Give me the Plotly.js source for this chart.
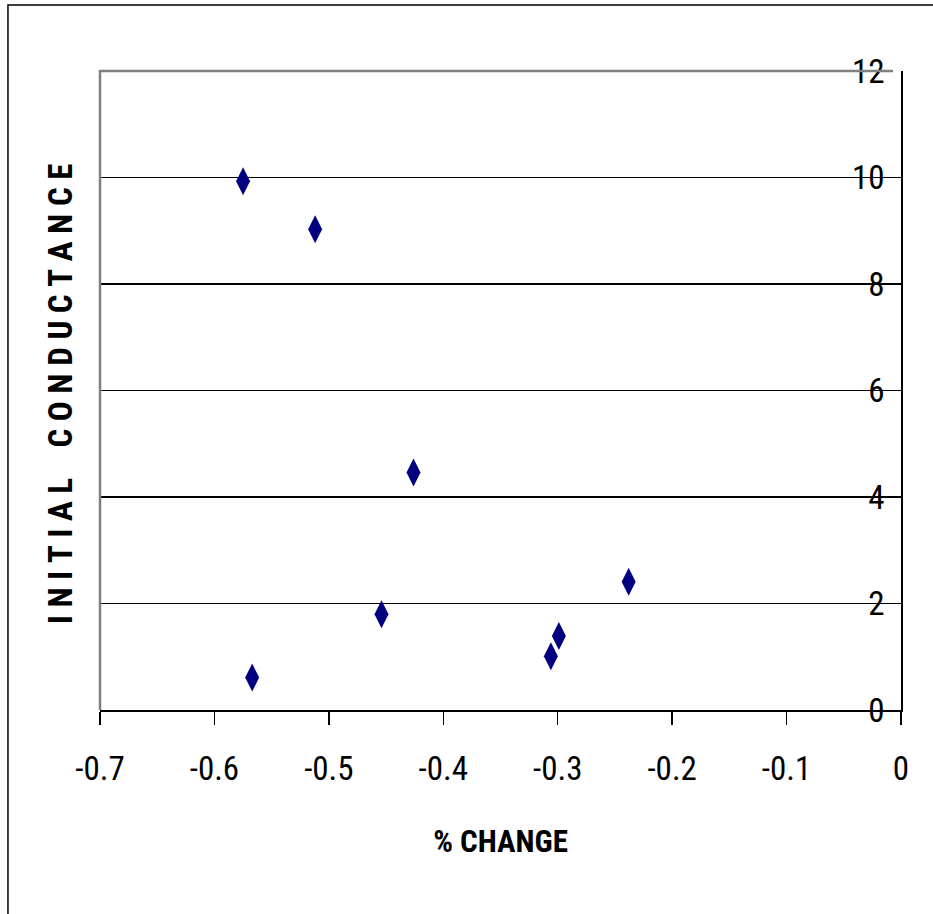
<!DOCTYPE html>
<html>
<head>
<meta charset="utf-8">
<script src="https://cdn.plot.ly/plotly-3.0.1.min.js"></script>
<style>html,body{margin:0;padding:0;background:#fff;}#chart{width:933px;height:914px;}</style>
</head>
<body>
<div id="chart"></div>
<script>
// Data
var pctChange = [-0.575, -0.512, -0.426, -0.454, -0.567, -0.306, -0.299, -0.238];
var initialConductance = [9.93, 9.03, 4.46, 1.80, 0.61, 1.01, 1.39, 2.41];
var xTickVals = [-0.7, -0.6, -0.5, -0.4, -0.3, -0.2, -0.1, 0];
var xTickText = ['-0.7', '-0.6', '-0.5', '-0.4', '-0.3', '-0.2', '-0.1', '0'];
var yTickVals = [0, 2, 4, 6, 8, 10, 12];
var yTickText = ['0', '2', '4', '6', '8', '10', '12'];
var xTitle = '% CHANGE';
var yTitle = 'INITIAL CONDUCTANCE';

var NARROW = '"Roboto Condensed", "Liberation Sans", Arial, sans-serif';

function spaced(s) {
  return s.split(' ').map(function (w) { return w.split('').join('\u00A0'); }).join('\u00A0\u00A0\u00A0\u00A0');
}

var trace = {
  x: pctChange, y: initialConductance, type: 'scatter', mode: 'markers',
  marker: { symbol: 'diamond-tall', size: 20, color: '#000080', line: { width: 0 } }
};

var layout = {
  width: 933, height: 914, paper_bgcolor: '#ffffff', plot_bgcolor: '#ffffff', showlegend: false,
  margin: { l: 100, r: 32, t: 71, b: 204 },
  font: { family: NARROW, color: '#000000' },
  xaxis: {
    range: [-0.7, 0], tickvals: xTickVals, ticktext: xTickText, showgrid: false, zeroline: false,
    showline: true, linecolor: '#000000', linewidth: 2, ticks: 'outside', ticklen: 13, tickwidth: 1.5,
    tickcolor: '#000000', ticklabelstandoff: 15, ticklabeloverflow: 'allow',
    tickfont: { family: NARROW, size: 33, color: '#000000' },
    title: { text: xTitle, font: { family: NARROW, size: 31, color: '#000000', weight: 'bold' }, standoff: 44 }
  },
  yaxis: {
    range: [0, 12], side: 'right', tickvals: yTickVals, ticktext: yTickText, showgrid: true,
    gridcolor: '#000000', gridwidth: 1.5, zeroline: false, showline: true, linecolor: '#000000', linewidth: 2,
    ticks: 'inside', ticklen: 8, tickwidth: 1.5, tickcolor: '#000000', ticklabelposition: 'inside',
    ticklabelstandoff: 12, ticklabeloverflow: 'allow',
    tickfont: { family: NARROW, size: 33, color: '#000000' }
  },
  shapes: [
    { type: 'path', xref: 'paper', yref: 'paper', path: 'M0,0 L0,1 L0.99,1', line: { color: '#808080', width: 2.5 }, layer: 'above' },
    { type: 'path', xref: 'paper', yref: 'paper', path: 'M-0.1149,-0.4 L-0.1149,1.1033 L1.1,1.1033', line: { color: '#000000', width: 1.5 }, layer: 'above' }
  ],
  annotations: [{
    text: spaced(yTitle), xref: 'paper', yref: 'paper', x: -0.05, y: 0.4945, xanchor: 'center', yanchor: 'middle',
    textangle: -90, showarrow: false,
    font: { family: NARROW, size: 33, color: '#000000', weight: 'bold' }
  }]
};
Plotly.newPlot('chart', [trace], layout, { displayModeBar: false, staticPlot: true });
</script>
</body>
</html>
